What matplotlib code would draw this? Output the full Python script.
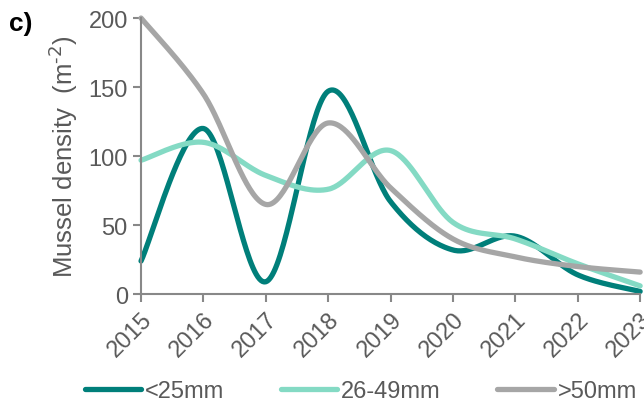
import numpy as np
import matplotlib
matplotlib.use("Agg")
import matplotlib.pyplot as plt

plt.rcParams['font.family'] = ['Liberation Sans', 'DejaVu Sans']

years = [2015, 2016, 2017, 2018, 2019, 2020, 2021, 2022, 2023]
small = [24, 120, 9, 147, 67, 32, 42, 14, 2]
medium = [97, 110, 86, 76, 104, 52, 40, 22, 6]
large = [200, 145, 65, 124, 77, 40, 27, 20, 16]
labels = ['<25mm', '26-49mm', '>50mm']
colors = ['#007F7A', '#84DAC4', '#A6A6A6']


def smooth(x, y, n=40):
    # Excel-style smoothed line (Catmull-Rom through the points)
    x = np.asarray(x, float)
    y = np.asarray(y, float)
    px = np.concatenate([[x[0]], x, [x[-1]]])
    py = np.concatenate([[y[0]], y, [y[-1]]])
    xs, ys = [], []
    t = np.linspace(0, 1, n)
    for i in range(1, len(px) - 2):
        p0 = np.array([px[i], py[i]])
        p3 = np.array([px[i + 1], py[i + 1]])
        c1 = p0 + (np.array([px[i + 1], py[i + 1]]) - np.array([px[i - 1], py[i - 1]])) / 6
        c2 = p3 - (np.array([px[i + 2], py[i + 2]]) - np.array([px[i], py[i]])) / 6
        b = ((1 - t) ** 3)[:, None] * p0 + (3 * (1 - t) ** 2 * t)[:, None] * c1 \
            + (3 * (1 - t) * t ** 2)[:, None] * c2 + (t ** 3)[:, None] * p3
        xs.append(b[:, 0])
        ys.append(b[:, 1])
    return np.concatenate(xs), np.concatenate(ys)


fig = plt.figure(figsize=(6.44, 4.14), dpi=100)
ax = fig.add_axes([0.219, 0.287, 0.775, 0.667])

for data, lab, c in zip([small, medium, large], labels, colors):
    sx, sy = smooth(years, data)
    ax.plot(sx, sy, color=c, lw=3.8, label=lab, solid_capstyle='round', clip_on=False)

ax.set_xlim(2015, 2023)
ax.set_ylim(0, 200)
ax.set_xticks(years)
ax.set_xticklabels([str(y) for y in years], rotation=45, ha='right', rotation_mode='anchor')
ax.set_yticks([0, 50, 100, 150, 200])

for s in ['top', 'right']:
    ax.spines[s].set_visible(False)
for s in ['left', 'bottom']:
    ax.spines[s].set_color('#888888')
    ax.spines[s].set_linewidth(1.5)
ax.tick_params(axis='both', colors='#888888', labelcolor='#595959', labelsize=17,
               length=6, width=1.5, direction='out')
ax.tick_params(axis='x', pad=4)

ax.set_ylabel(r'Mussel density  (m$^{\text{-2}}$)', fontsize=18.5, color='#595959', labelpad=6)

fig.text(0.014, 0.925, 'c)', fontsize=19, fontweight='bold', color='black')

fig.legend(loc='lower center', bbox_to_anchor=(0.56, -0.025), ncol=3, frameon=False,
           fontsize=17, handlelength=2.4, handletextpad=0.15, columnspacing=2.4,
           labelcolor='#595959')

fig.savefig('out.png', dpi=100)
